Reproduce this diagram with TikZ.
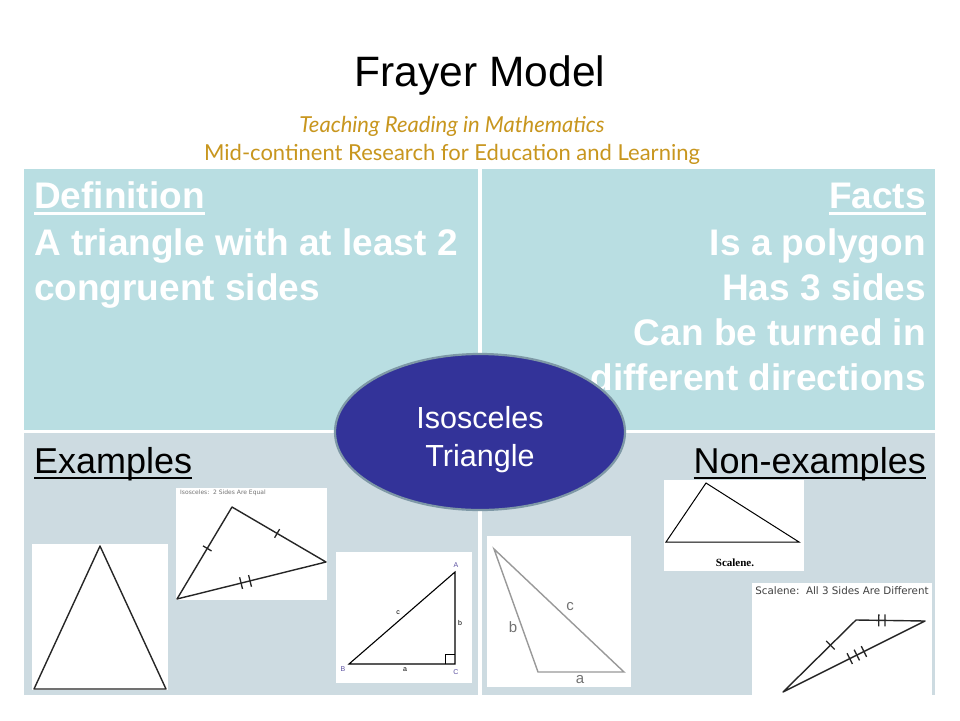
\documentclass[tikz,border=0pt]{standalone}
\usepackage{fontspec}
\setmainfont{Liberation Sans}
\newfontfamily\gill{Lato}
\newfontfamily\serifbold{Liberation Serif}
\newfontfamily\dejavu{DejaVu Sans}
\usetikzlibrary{shapes.geometric,calc}
\definecolor{topcell}{HTML}{B9DEE2}
\definecolor{botcell}{HTML}{CDDBE1}
\definecolor{gold}{HTML}{C8961E}
\definecolor{oval}{HTML}{333399}
\definecolor{ovalrim}{HTML}{7E98A6}
\definecolor{lbl}{HTML}{5A4FA0}
\begin{document}
\begin{tikzpicture}[x=1pt,y=-1pt,
  celltext/.style={inner sep=0,text=white,font=\fontsize{37}{45}\selectfont\bfseries},
  lowtext/.style={inner sep=0,text=black,font=\fontsize{36}{45}\selectfont},
  photo/.style={fill=white,draw=none},
  tri/.style={line width=1.4pt,draw=black!85,line join=round},
  tickmark/.style={line width=1.3pt,draw=black!85},
  tinylbl/.style={inner sep=0,font=\fontsize{7}{8}\selectfont}]
\useasboundingbox[fill=white] (0,0) rectangle (960,720);
% cells
\fill[topcell] (24,169) rectangle (478,430);
\fill[topcell] (482,169) rectangle (935,430);
\fill[botcell] (24,433) rectangle (478,695);
\fill[botcell] (482,433) rectangle (935,695);
% title
\node[inner sep=0,anchor=base,font=\fontsize{42.5}{45}\selectfont] (title) at (480,86) {Frayer Model};
\node[inner sep=0,anchor=base,text=gold,font=\gill\itshape\fontsize{22}{24}\selectfont] (sub1) at (452,132) {Teaching Reading in Mathematics};
\node[inner sep=0,anchor=base,text=gold,font=\gill\fontsize{22}{24}\selectfont] (sub2) at (452,160) {Mid-continent Research for Education and Learning};
% definition
\node[celltext,anchor=base west] (defh) at (34,208) {Definition};
\draw[white,line width=3pt] ([yshift=-5pt]defh.base west) -- ([yshift=-5pt]defh.base east);
\node[celltext,anchor=base west] (def1) at (34,255) {A triangle with at least 2};
\node[celltext,anchor=base west] (def2) at (34,300) {congruent sides};
% facts
\node[celltext,anchor=base east] (facth) at (926,208) {Facts};
\draw[white,line width=3pt] ([yshift=-5pt]facth.base west) -- ([yshift=-5pt]facth.base east);
\node[celltext,anchor=base east] (fact1) at (926,255) {Is a polygon};
\node[celltext,anchor=base east] (fact2) at (926,300) {Has 3 sides};
\node[celltext,anchor=base east] (fact3) at (926,345) {Can be turned in};
\node[celltext,anchor=base east] (fact4) at (926,390) {different directions};
% examples
\node[lowtext,anchor=base west] (exh) at (34,473) {Examples};
\draw[black,line width=2.5pt] ([yshift=-5pt]exh.base west) -- ([yshift=-5pt]exh.base east);
\node[lowtext,anchor=base east] (nexh) at (926,473) {Non-examples};
\draw[black,line width=2.5pt] ([yshift=-5pt]nexh.base west) -- ([yshift=-5pt]nexh.base east);
% picture 1: isosceles (tall)
\fill[photo] (32,544) rectangle (168,690);
\coordinate (p1a) at (100,546);
\coordinate (p1b) at (34,689);
\coordinate (p1c) at (166,689);
\draw[tri] (p1a) -- (p1b) -- (p1c) -- cycle;
% picture 2: isosceles with ticks
\fill[photo] (176,488) rectangle (327,600);
\node[tinylbl,anchor=west,text=black!55,font=\dejavu\fontsize{6}{7}\selectfont] (p2t) at (180,493) {Isosceles:\ \ 2 Sides Are Equal};
\coordinate (p2a) at (232,507);
\coordinate (p2b) at (326,562);
\coordinate (p2c) at (177,599);
\draw[tri] (p2a) -- (p2b) -- (p2c) -- cycle;
\draw[tickmark] ($(p2c)!0.55!(p2a)!5pt!90:(p2a)$) -- ($(p2c)!0.55!(p2a)!5pt!-90:(p2a)$);
\draw[tickmark] ($(p2a)!0.48!(p2b)!5pt!90:(p2b)$) -- ($(p2a)!0.48!(p2b)!5pt!-90:(p2b)$);
\draw[tickmark] ($(p2c)!0.43!(p2b)!6pt!90:(p2b)$) -- ($(p2c)!0.43!(p2b)!6pt!-90:(p2b)$);
\draw[tickmark] ($(p2c)!0.49!(p2b)!6pt!90:(p2b)$) -- ($(p2c)!0.49!(p2b)!6pt!-90:(p2b)$);
% picture 3: right triangle
\fill[photo] (336,552) rectangle (472,683);
\coordinate (p3a) at (455,572);
\coordinate (p3b) at (349,664);
\coordinate (p3c) at (455,664);
\draw[line width=1.1pt] (p3a) -- (p3b) -- (p3c) -- cycle;
\draw[line width=0.7pt] (445,664) -- (445,654) -- (455,654);
\node[tinylbl,text=lbl] (p3la) at (456,565) {A};
\node[tinylbl,text=lbl] (p3lb) at (343,669) {B};
\node[tinylbl,text=lbl] (p3lc) at (456,672) {C};
\node[tinylbl] (p3sa) at (405,670) {a};
\node[tinylbl] (p3sb) at (460,623) {b};
\node[tinylbl] (p3sc) at (398,613) {c};
% picture 4: obtuse non-example
\fill[photo] (487,536) rectangle (631,687);
\coordinate (p4a) at (494,549);
\coordinate (p4b) at (538,672);
\coordinate (p4c) at (624,672);
\draw[line width=1.4pt,draw=black!40] (p4a) -- (p4b) -- (p4c) -- cycle;
\node[inner sep=0,text=black!55,font=\fontsize{15}{16}\selectfont] (p4lb) at (513,627) {b};
\node[inner sep=0,text=black!55,font=\fontsize{15}{16}\selectfont] (p4lc) at (570,607) {c};
\node[inner sep=0,text=black!55,font=\fontsize{15}{16}\selectfont] (p4la) at (580,680) {a};
% picture 5: scalene
\fill[photo] (664,480) rectangle (804,571);
\coordinate (p5a) at (706,483);
\coordinate (p5b) at (666,542);
\coordinate (p5c) at (799,542);
\draw[line width=1pt] (p5a) -- (p5b) -- (p5c) -- cycle;
\node[inner sep=0,font=\serifbold\bfseries\fontsize{11}{12}\selectfont] (p5t) at (735,563) {Scalene.};
% picture 6: scalene with ticks
\fill[photo] (752,583) rectangle (932,695);
\node[tinylbl,text=black!75,font=\dejavu\fontsize{10.3}{11}\selectfont] (p6t) at (842,591) {Scalene:\ \ All 3 Sides Are Different};
\coordinate (p6a) at (856,620);
\coordinate (p6b) at (925,621);
\coordinate (p6c) at (783,692);
\draw[tri] (p6a) -- (p6b) -- (p6c) -- cycle;
\draw[tickmark] ($(p6c)!0.65!(p6a)!6pt!90:(p6a)$) -- ($(p6c)!0.65!(p6a)!6pt!-90:(p6a)$);
\draw[tickmark] ($(p6a)!0.33!(p6b)!6pt!90:(p6b)$) -- ($(p6a)!0.33!(p6b)!6pt!-90:(p6b)$);
\draw[tickmark] ($(p6a)!0.42!(p6b)!6pt!90:(p6b)$) -- ($(p6a)!0.42!(p6b)!6pt!-90:(p6b)$);
\draw[tickmark] ($(p6c)!0.47!(p6b)!6pt!90:(p6b)$) -- ($(p6c)!0.47!(p6b)!6pt!-90:(p6b)$);
\draw[tickmark] ($(p6c)!0.52!(p6b)!6pt!90:(p6b)$) -- ($(p6c)!0.52!(p6b)!6pt!-90:(p6b)$);
\draw[tickmark] ($(p6c)!0.57!(p6b)!6pt!90:(p6b)$) -- ($(p6c)!0.57!(p6b)!6pt!-90:(p6b)$);
% central oval
\node[ellipse,fill=oval,draw=ovalrim,line width=2.2pt,minimum width=290pt,minimum height=156pt,
  text=white,align=center,font=\fontsize{30.5}{38}\selectfont,inner sep=0,
  text depth=0pt] (oval) at (480,432) {\raisebox{11pt}{\parbox{200pt}{\centering Isosceles\\Triangle}}};
\end{tikzpicture}
\end{document}
